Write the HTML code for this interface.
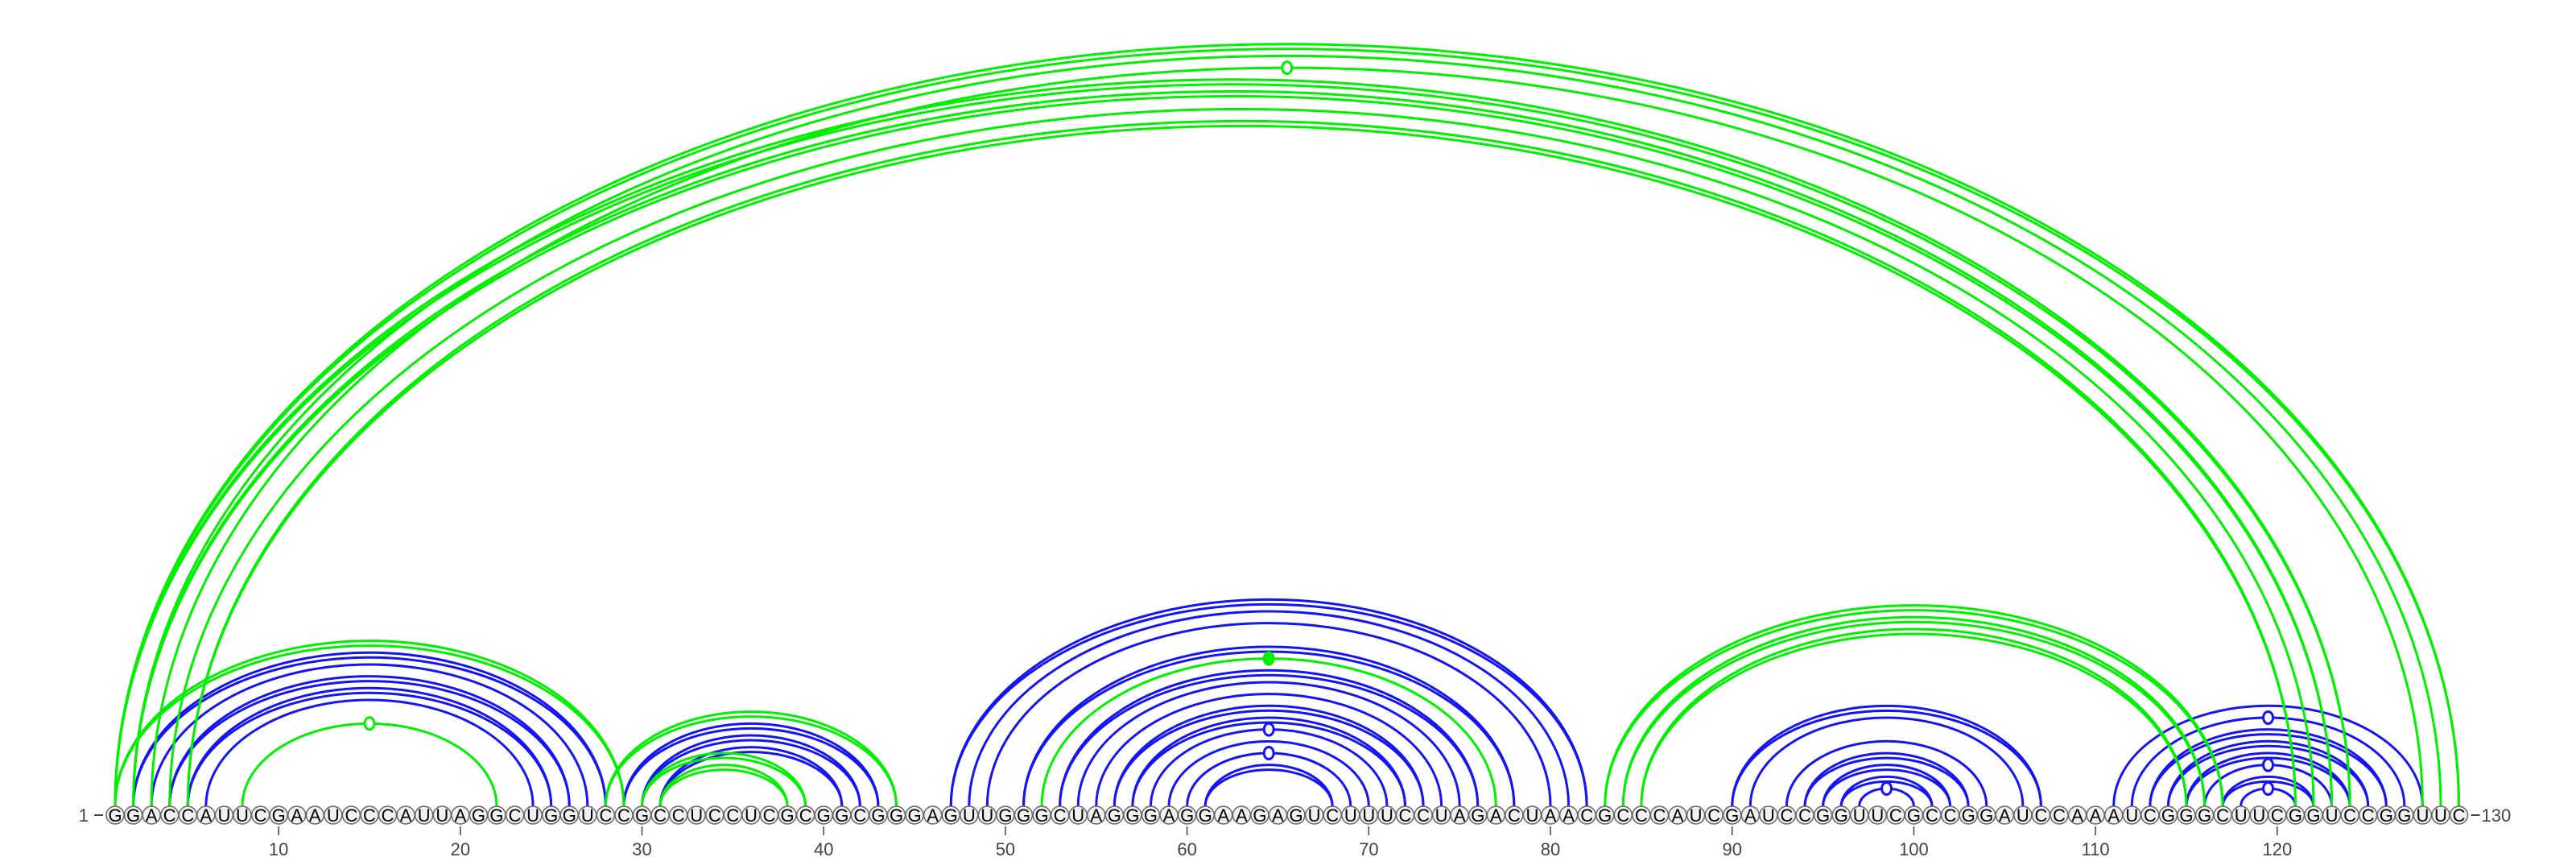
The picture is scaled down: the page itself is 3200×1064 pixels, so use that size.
<!DOCTYPE html>
<html><head><meta charset="utf-8"><style>
html,body{margin:0;padding:0;background:#fff;}
svg{display:block;}
text{font-family:"Liberation Sans","DejaVu Sans",sans-serif;}
</style></head><body>
<svg id="chart" width="3200" height="1064" viewBox="0 0 3200 1064" xmlns="http://www.w3.org/2000/svg">
<g id="arcs"></g>
<g id="nts"></g>
<g id="axis"></g>
</svg>
<script>
const sequence = "GGACCAUUCGAAUCCCAUUAGGCUGGUCCGCCUCCUCGCGGCGGGAGUUGGGCUAGGGAGGAAGAGUCUUUCCUAGACUAACGCCCAUCGAUCCGGUUCGCCGGAUCCAAAUCGGGCUUCGGUCCGGUUC";
const bluePairs = [[2,28],[3,27],[4,26],[5,25],[6,24],[29,43],[30,42],[31,41],
  [47,82],[48,81],[49,80],[51,78],[53,76],[54,75],[55,74],[56,73],[57,72],[58,71],[59,70],[60,69],[61,68],
  [90,107],[91,106],[93,104],[94,103],[95,102],[96,101],[97,100],
  [111,128],[112,127],[113,126],[114,125],[115,124],[116,123],[117,122],[118,121]];
const blueDouble = [1,0,1,1,0,1,1,1, 1,0,0,1,1,0,0,1,1,0,0,0,1, 1,0,0,1,1,1,0, 0,0,1,1,1,0,1,0];
const blueMarker = [0,0,0,0,0,0,0,0, 0,0,0,0,0,0,0,0,0,1,0,1,0, 0,0,0,0,0,0,1, 0,1,0,0,0,1,0,1];
const greenPairs = [[1,29],[8,22],[28,44],[30,39],[31,38],[52,77],[83,117],[84,116],[85,115],
  [1,130],[2,129],[3,128],[1,124],[2,123],[4,122],[5,121]];
const greenDouble = [1,0,1,1,1,0,1,1,1, 1,0,0,1,1,0,1];
const greenMarker = [0,1,0,0,0,2,0,0,0, 0,0,1,0,0,0,0];
const tickPositions = [10,20,30,40,50,60,70,80,90,100,110,120];

const NS = "http://www.w3.org/2000/svg";
const X0 = 143, DX = 22.57, YC = 1012, R = 11, YTOP = YC - R, RATIO = 0.65;
function xPos(i){ return X0 + (i-1)*DX; }
function mk(tag, attrs, parent){ const e=document.createElementNS(NS,tag); for(const k in attrs) e.setAttribute(k,attrs[k]); parent.appendChild(e); return e; }

const arcs = document.getElementById('arcs');
function drawArcs(pairs, dbl, markers, color, name){
  pairs.forEach((p,idx)=>{
    const x1=xPos(p[0]), x2=xPos(p[1]);
    const rx=(x2-x1)/2, ry=rx*RATIO;
    const offs = dbl[idx] ? [0,-6] : [0];
    offs.forEach(o=>{
      const r2 = ry + o;
      const path = mk('path',{d:`M ${x1} ${YTOP} A ${rx} ${r2} 0 0 1 ${x2} ${YTOP}`,fill:'none',stroke:color,'stroke-width':3},arcs);
      
      
    });
    if(markers[idx]){
      const cx=(x1+x2)/2, cy=YTOP-ry;
      const m = mk('ellipse',{cx:cx,cy:cy,rx:6,ry:7.5,fill:markers[idx]===2?color:'#fff',stroke:color,'stroke-width':3},arcs);
      
      
    }
  });
}
drawArcs(bluePairs, blueDouble, blueMarker, '#1414f5', 'blue');
drawArcs(greenPairs, greenDouble, greenMarker, '#00f000', 'green');

const nts = document.getElementById('nts');
for(let i=1;i<=sequence.length;i++){
  const g = mk('g',{},nts);
  
  
  mk('circle',{cx:xPos(i),cy:YC,r:R,fill:'#f0f0f0',stroke:'#666','stroke-width':1.5},g);
  const t = mk('text',{x:xPos(i),y:YC+8,'text-anchor':'middle','font-size':22,fill:'#000'},g);
  t.textContent = sequence[i-1];
}
const axis = document.getElementById('axis');
const l1 = mk('text',{x:110,y:YC+8,'text-anchor':'end','font-size':22,fill:'#444'},axis);
l1.textContent='1';


mk('line',{x1:117,y1:YC,x2:128,y2:YC,stroke:'#444','stroke-width':2},axis);
const xe = xPos(sequence.length);
mk('line',{x1:xe+15,y1:YC,x2:xe+26,y2:YC,stroke:'#444','stroke-width':2},axis);
const l2 = mk('text',{x:xe+28,y:YC+8,'font-size':22,fill:'#444'},axis);
l2.textContent='130';


tickPositions.forEach(v=>{
  const x=xPos(v);
  const tk = mk('line',{x1:x,y1:1026,x2:x,y2:1037,stroke:'#444','stroke-width':1.5},axis);
  
  
  const t = mk('text',{x:x,y:1062,'text-anchor':'middle','font-size':22,fill:'#444'},axis);
  t.textContent=String(v);
  
  
});
</script>
</body></html>
